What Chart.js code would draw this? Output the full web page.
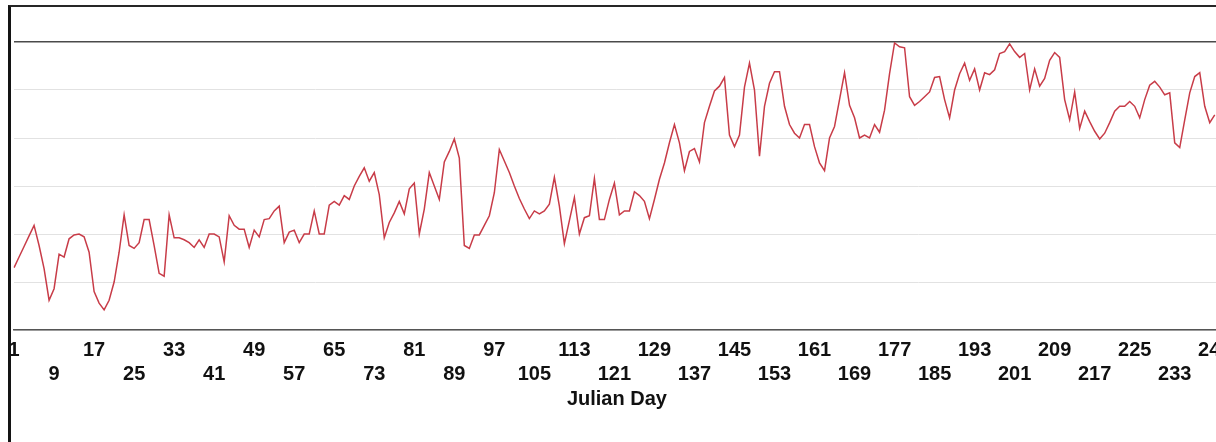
<!DOCTYPE html>
<html>
<head>
<meta charset="utf-8">
<title>Julian Day</title>
<script src="https://cdn.jsdelivr.net/npm/chart.js@4/dist/chart.umd.min.js"></script>
<style>
    html, body {
        margin: 0;
        padding: 0;
        background: #fff;
        overflow: hidden;
    }
    #wrap {
        position: relative;
        width: 1216px;
        height: 442px;
        overflow: hidden;
    }
    #chart {
        position: absolute;
        left: 0;
        top: 0;
    }
    /* scanned frame of the original figure */
    #frame {
        position: absolute;
        left: 8px;
        top: 5px;
        width: 1300px;
        height: 500px;
        border-left: 3px solid #141414;
        border-top: 2px solid #262626;
        pointer-events: none;
        z-index: 2;
    }
</style>
</head>
<body>
<div id="wrap">
    <canvas id="chart" width="1240" height="442"></canvas>
    <div id="frame"></div>
</div>
<script>
// x categories: Julian day 1..242
const julianDays = Array.from({ length: 242 }, (_, i) => i + 1);

// alternating two-row tick labels under the axis
const topRowLabels = [1, 17, 33, 49, 65, 81, 97, 113, 129, 145, 161, 177, 193, 209, 225, 241];
const bottomRowLabels = [9, 25, 41, 57, 73, 89, 105, 121, 137, 153, 169, 185, 201, 217, 233];

// daily values (days 1..241)
const dailyValues = [
    6.5, 7.6, 8.7, 9.8, 10.9, 8.8, 6.4, 3.1, 4.3, 7.9,
    7.6, 9.5, 9.9, 10.0, 9.7, 8.1, 4.0, 2.8, 2.1, 3.1,
    5.0, 8.1, 12.0, 8.8, 8.5, 9.1, 11.5, 11.5, 8.8, 5.9,
    5.6, 12.0, 9.6, 9.6, 9.4, 9.1, 8.6, 9.4, 8.6, 10.0,
    10.0, 9.7, 7.1, 11.9, 10.9, 10.5, 10.5, 8.6, 10.4, 9.7,
    11.5, 11.6, 12.4, 12.9, 9.1, 10.2, 10.4, 9.1, 10.0, 10.0,
    12.4, 10.0, 10.0, 13.0, 13.4, 13.0, 14.0, 13.6, 15.0, 16.0,
    16.9, 15.5, 16.4, 14.1, 9.6, 11.2, 12.2, 13.4, 12.1, 14.7,
    15.3, 10.0, 12.6, 16.4, 15.0, 13.6, 17.5, 18.6, 19.9, 17.9,
    8.8, 8.5, 9.9, 9.9, 10.9, 11.9, 14.3, 18.8, 17.6, 16.4,
    15.0, 13.7, 12.6, 11.6, 12.4, 12.1, 12.4, 13.1, 15.9, 12.9,
    9.0, 11.4, 13.8, 10.0, 11.7, 11.9, 15.8, 11.5, 11.5, 13.6,
    15.3, 12.0, 12.4, 12.4, 14.4, 14.0, 13.4, 11.6, 13.6, 15.7,
    17.4, 19.5, 21.4, 19.5, 16.6, 18.6, 18.9, 17.5, 21.6, 23.3,
    24.9, 25.4, 26.3, 20.3, 19.1, 20.3, 25.3, 27.8, 25.0, 18.1,
    23.3, 25.7, 26.9, 26.9, 23.3, 21.4, 20.5, 20.0, 21.4, 21.4,
    19.1, 17.4, 16.6, 20.0, 21.2, 24.0, 26.8, 23.4, 22.1, 20.0,
    20.3, 20.0, 21.4, 20.6, 22.9, 26.7, 29.9, 29.5, 29.4, 24.3,
    23.4, 23.8, 24.3, 24.8, 26.3, 26.4, 24.0, 22.1, 25.0, 26.7,
    27.8, 26.0, 27.2, 25.0, 26.8, 26.6, 27.1, 28.8, 29.0, 29.8,
    29.0, 28.4, 28.8, 25.0, 27.2, 25.4, 26.2, 28.1, 28.9, 28.4,
    24.0, 21.9, 24.8, 21.0, 22.8, 21.7, 20.7, 19.9, 20.5, 21.6,
    22.8, 23.3, 23.3, 23.8, 23.3, 22.1, 24.0, 25.5, 25.9, 25.3,
    24.5, 24.7, 19.5, 19.0, 21.9, 24.7, 26.4, 26.8, 23.3, 21.6,
    22.4
];

const yMin = 0;
const yMax = 30;
const yStep = 5;

const labelFont = {
    family: "'Liberation Sans', Arial, sans-serif",
    size: 20,
    weight: 'bold',
    lineHeight: 1.2
};

function tickLabel(day) {
    if (topRowLabels.includes(day)) {
        return [String(day), ''];
    }
    if (bottomRowLabels.includes(day)) {
        return ['', String(day)];
    }
    return null;
}

const ctx = document.getElementById('chart');

new Chart(ctx, {
    type: 'line',
    data: {
        labels: julianDays,
        datasets: [{
            label: 'Daily value',
            data: dailyValues,
            borderColor: '#c83c48',
            borderWidth: 1.5,
            pointRadius: 0,
            tension: 0,
            fill: false
        }]
    },
    options: {
        responsive: false,
        animation: false,
        devicePixelRatio: 1,
        layout: {
            padding: { left: 12.7, right: 17.5, top: 42, bottom: 31 }
        },
        scales: {
            x: {
                type: 'category',
                offset: false,
                grid: { display: false, drawTicks: false },
                border: { display: true, color: '#555', width: 1.5 },
                ticks: {
                    autoSkip: false,
                    maxRotation: 0,
                    minRotation: 0,
                    padding: 8.5,
                    color: '#111',
                    font: labelFont,
                    callback: function (value, index) {
                        return tickLabel(julianDays[index]);
                    }
                },
                title: {
                    display: true,
                    text: 'Julian Day',
                    color: '#111',
                    font: labelFont,
                    padding: { top: -8, bottom: 0 }
                }
            },
            y: {
                min: yMin,
                max: yMax,
                border: { display: false },
                grid: {
                    drawTicks: false,
                    color: function (c) {
                        return c.tick.value === yMax ? '#4a4a4a' : '#e2e2e2';
                    },
                    lineWidth: function (c) {
                        return c.tick.value === yMax ? 1.5 : 1;
                    }
                },
                ticks: { display: false, stepSize: yStep }
            }
        },
        plugins: {
            legend: { display: false },
            tooltip: { enabled: false }
        }
    }
});
</script>
</body>
</html>
